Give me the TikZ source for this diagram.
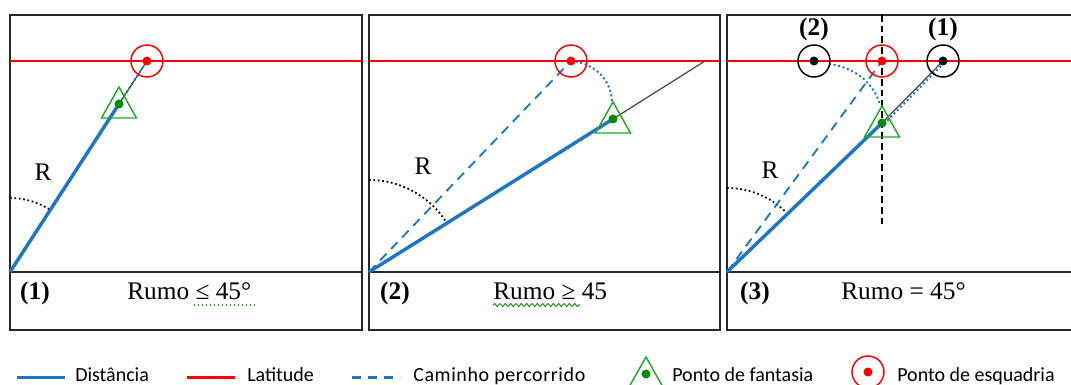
\documentclass[tikz,border=0pt]{standalone}
\usepackage{fontspec}
\setmainfont{Liberation Serif}
\newfontfamily\legfont{Carlito}
\usetikzlibrary{decorations.pathmorphing}
\definecolor{dblue}{RGB}{31,119,196}
\definecolor{lred}{RGB}{255,0,0}
\definecolor{tgreen}{RGB}{30,170,40}
\definecolor{dgreen}{RGB}{0,140,0}
\definecolor{bord}{RGB}{40,40,40}
\definecolor{gline}{RGB}{70,70,70}
\definecolor{spell}{RGB}{40,150,40}
\begin{document}
\begin{tikzpicture}[x=0.75pt,y=0.75pt,
 panel/.style={draw=bord,line width=1.5pt},
 lat/.style={draw=lred,line width=1.1pt},
 latleg/.style={draw=lred,line width=1.6pt},
 dist/.style={draw=dblue,line width=2.6pt},
 walk/.style={draw=dblue,line width=1.4pt,dash pattern=on 7pt off 5pt},
 walkleg/.style={draw=dblue,line width=1.9pt,dash pattern=on 7pt off 5pt},
 arcpath/.style={draw=dblue,line width=1.5pt,dotted},
 ext/.style={draw=gline,line width=0.9pt},
 angarc/.style={draw=black,line width=1.3pt,dotted},
 vdash/.style={draw=black,line width=1pt,dash pattern=on 5pt off 3pt},
 lbl/.style={font=\fontsize{19}{22}\selectfont, inner sep=0},
 blbl/.style={font=\fontsize{19}{22}\selectfont\bfseries, inner sep=0},
 leg/.style={font=\legfont\fontsize{15}{18}\selectfont, inner sep=0, anchor=base west},
 fant/.pic={\draw[tgreen,line width=1.1pt] (0,17) -- (-17.5,-14) -- (17.5,-14) -- cycle;
            \fill[dgreen] (0,0) circle[radius=4.5];},
 esq/.pic={\draw[lred,line width=1.1pt] (0,0) circle[radius=16];
           \fill[lred] (0,0) circle[radius=4.5];},
 blk/.pic={\draw[black,line width=1.1pt] (0,0) circle[radius=16];
           \fill[black] (0,0) circle[radius=4.5];}
]
\useasboundingbox (0,0) rectangle (1071,385);
\clip (0,0) rectangle (1071,385);

% ---------- panel 1 ----------
\draw[panel] (10,55) rectangle (362,370);
\draw[panel] (10,113) -- (362,113);
\draw[lat] (10,324) -- (362,324);
\coordinate (O1) at (10,113);
\coordinate (E1) at (147,324);
\coordinate (F1) at (119,281);
\draw[angarc] ([shift={(90:74)}]O1) arc[start angle=90,end angle=57,radius=74];
\draw[ext] (F1) -- (E1);
\draw[arcpath] (F1) -- (E1);
\draw[dist] (O1) -- (F1);
\node[lbl] (R1) at (43,213) {R};
\pic at (F1) {fant};
\pic at (E1) {esq};
\node[blbl,anchor=base] (n1) at (35,85) {(1)};
\node[lbl,anchor=base west] (t1) at (127,85) {Rumo ≤ 45°};
\draw[spell,line width=1pt,dotted] (194,80) -- (257,80);

% ---------- panel 2 ----------
\draw[panel] (369,55) rectangle (720,370);
\draw[panel] (369,113) -- (720,113);
\draw[lat] (369,324) -- (720,324);
\coordinate (O2) at (369,113);
\coordinate (E2) at (571,324);
\coordinate (F2) at (613,266);
\coordinate (T2) at (612,283);
\coordinate (G2) at (705,324);
\draw[angarc] ([shift={(90:92)}]O2) arc[start angle=90,end angle=32,radius=92];
\draw[walk] (O2) -- (E2);
\draw[arcpath] (E2) .. controls (592,322) and (611,308) .. (T2);
\draw[ext] (F2) -- (G2);
\draw[dist] (O2) -- (F2);
\node[lbl] (R2) at (423,219) {R};
\pic at (F2) {fant};
\pic at (E2) {esq};
\node[blbl,anchor=base] (n2) at (395,85) {(2)};
\node[lbl,anchor=base west] (t2) at (493,85) {Rumo ≥ 45};
\draw[spell,line width=0.8pt,decorate,decoration={snake,amplitude=1.1pt,segment length=4pt}] (493,80) -- (580,80);

% ---------- panel 3 ----------
\draw[panel] (1080,55) -- (727,55) -- (727,370) -- (1080,370);
\draw[panel] (727,113) -- (1080,113);
\draw[lat] (727,324) -- (1071,324);
\coordinate (O3) at (727,113);
\coordinate (E3) at (882,324);
\coordinate (B2) at (814,324);
\coordinate (B1) at (943,324);
\coordinate (F3) at (882,262);
\coordinate (A3) at (829,321);
\coordinate (T3) at (880,281);
\coordinate (V1) at (882,370);
\coordinate (V2) at (882,160);
\draw[angarc] ([shift={(90:84)}]O3) arc[start angle=90,end angle=45,radius=84];
\draw[vdash] (V1) -- (V2);
\draw[walk] (O3) -- (E3);
\draw[arcpath] (A3) .. controls (852,318) and (872,305) .. (T3);
\draw[arcpath] ([shift={(2,-1)}]F3) -- ([shift={(2,-1)}]B1);
\draw[ext] (F3) -- (B1);
\draw[dist] (O3) -- (F3);
\node[lbl] (R3) at (770,215) {R};
\pic at (F3) {fant};
\pic at (E3) {esq};
\pic at (B2) {blk};
\pic at (B1) {blk};
\node[blbl] (c2) at (814,356) {(2)};
\node[blbl] (c1) at (943,356) {(1)};
\node[blbl,anchor=base] (n3) at (755,85) {(3)};
\node[lbl,anchor=base west] (t3) at (841,85) {Rumo = 45°};

% ---------- legend ----------
\coordinate (L1a) at (17,7.5);  \coordinate (L1b) at (65,7.5);
\coordinate (L2a) at (187,7.5); \coordinate (L2b) at (235,7.5);
\coordinate (L3a) at (352,7.5); \coordinate (L3b) at (400,7.5);
\draw[dist] (L1a) -- (L1b);
\node[leg] (l1) at (75,3) {Distância};
\draw[latleg] (L2a) -- (L2b);
\node[leg] (l2) at (247,3) {Latitude};
\draw[walkleg] (L3a) -- (L3b);
\node[leg] (l3) at (413,3) {\addfontfeature{LetterSpace=3}Caminho percorrido};
\pic at (646,11) {fant};
\node[leg] (l4) at (672,3) {Ponto de fantasia};
\pic at (868,13) {esq};
\node[leg] (l5) at (897,3) {Ponto de esquadria};
\end{tikzpicture}
\end{document}
